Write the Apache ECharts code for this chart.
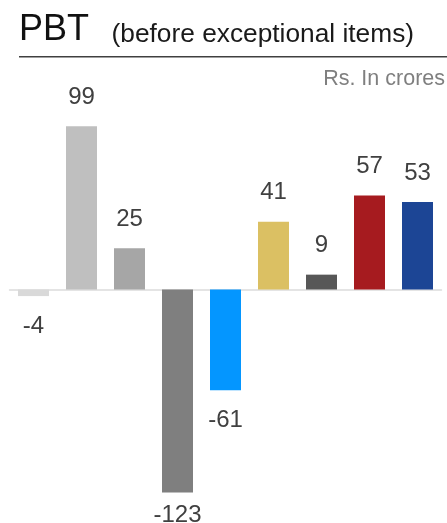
<!DOCTYPE html>
<html>
<head>
<meta charset="utf-8">
<script src="https://cdn.jsdelivr.net/npm/echarts@6/dist/echarts.min.js"></script>
<style>
html,body{margin:0;padding:0;background:#fff;}
#chart{width:447px;height:523px;}
</style>
</head>
<body>
<div id="chart"></div>
<script>
var categories = ['A','B','C','D','E','F','G','H','I'];
var values = [-4, 99, 25, -123, -61, 41, 9, 57, 53];
var barColors = ['#d9d9d9','#bfbfbf','#a6a6a6','#7f7f7f','#0496ff','#dbc063','#575757','#a61b1f','#1c4595'];
var titleMain = 'PBT';
var titleSub = '(before exceptional items)';
var unitText = 'Rs. In crores';

var chart = echarts.init(document.getElementById('chart'), null, {renderer:'canvas'});
var minVal = Math.min.apply(null, values);
var data = values.map(function(v, i){
  var neg = v < 0;
  return {
    value: v,
    itemStyle: {color: barColors[i]},
    label: {
      position: neg ? 'bottom' : 'top',
      distance: neg ? (v === minVal ? 11 : 18.5) : 17
    }
  };
});

var option = {
  animation: false,
  grid: {left: 9.5, right: 5.5, top: 91.5, bottom: 2.5, containLabel: false},
  xAxis: {
    type: 'category',
    data: categories,
    axisLine: {show: true, onZero: true, lineStyle: {color: '#dcdcdc', width: 1.5}},
    axisTick: {show: false},
    axisLabel: {show: false},
    splitLine: {show: false}
  },
  yAxis: {
    type: 'value',
    min: -140, max: 120,
    show: false,
    splitLine: {show: false}
  },
  series: [{
    type: 'bar',
    data: data,
    barWidth: 31,
    label: {
      show: true,
      color: '#404040',
      fontSize: 24,
      fontFamily: 'Liberation Sans, Arial, sans-serif',
      formatter: function(p){ return String(p.value); }
    }
  }],
  graphic: [
    {type:'text', left: 19, top: 12, style:{text: titleMain, font: '36px "Liberation Sans", Arial, sans-serif', fill:'#111'}},
    {type:'text', left: 111.5, top: 22, style:{text: titleSub, font: '26.3px "Liberation Sans", Arial, sans-serif', fill:'#1a1a1a'}},
    {type:'line', shape:{x1:19, y1:56.7, x2:447, y2:56.7}, style:{stroke:'#404040', lineWidth:1.4}},
    {type:'text', right: 2, top: 68.5, style:{text: unitText, font: '21.5px "Liberation Sans", Arial, sans-serif', fill:'#7f7f7f'}}
  ]
};
chart.setOption(option);
</script>
</body>
</html>
